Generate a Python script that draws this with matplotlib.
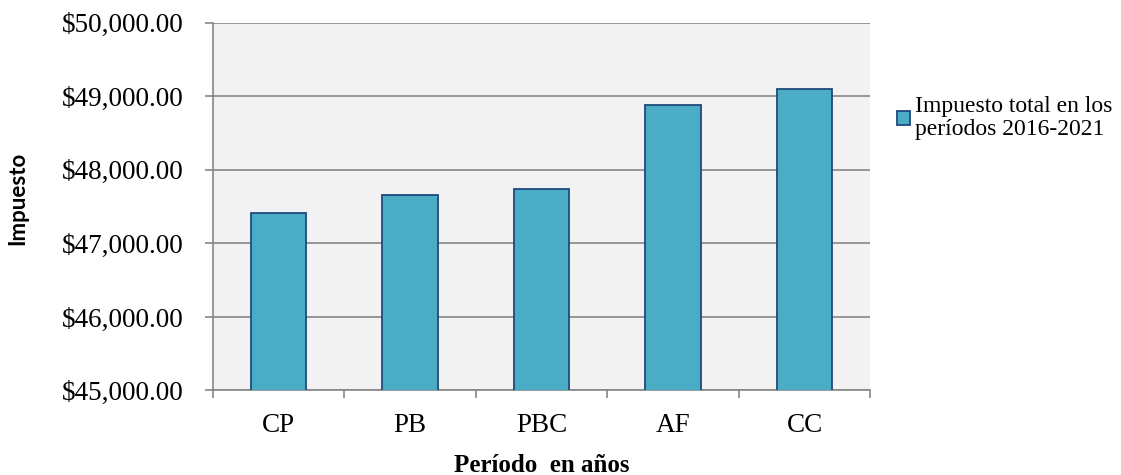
import matplotlib
matplotlib.use("Agg")
import matplotlib.pyplot as plt
from matplotlib.ticker import FuncFormatter, FixedLocator

# data
categories = ["CP", "PB", "PBC", "AF", "CC"]
impuesto = [47414, 47659, 47736, 48879, 49097]
series_label = "Impuesto total en los\nperíodos 2016-2021"

BAR = "#4BACC6"
EDGE = "#1F497D"
GRID = "#868686"
SERIF = ["Liberation Serif", "DejaVu Serif"]

plt.rcParams.update({"font.family": SERIF})

fig = plt.figure(figsize=(11.21, 4.75), dpi=100)
ax = fig.add_axes([0.1897, 0.178, 0.5868, 0.774])
ax.set_facecolor("#F2F2F2")

x = range(len(categories))
ax.bar(x, impuesto, width=0.42, color=BAR, edgecolor=EDGE, linewidth=1.3,
       zorder=3, label=series_label)

ax.set_ylim(45000, 50000)
ax.set_xlim(-0.5, len(categories) - 0.5)
ax.set_yticks(range(45000, 50001, 1000))
ax.yaxis.set_major_formatter(FuncFormatter(lambda v, p: f"${v:,.2f}"))
ax.yaxis.grid(True, color=GRID, linewidth=1.2, zorder=0)
ax.set_axisbelow(True)

ax.set_xticks(list(x))
ax.set_xticklabels(categories)
ax.xaxis.set_minor_locator(FixedLocator([i - 0.5 for i in range(len(categories) + 1)]))
ax.tick_params(axis="x", which="major", length=0, pad=16, labelsize=19.5)
ax.tick_params(axis="x", which="minor", length=6, width=1.2, color=GRID, direction="out")
ax.tick_params(axis="y", length=6, width=1.2, color=GRID, direction="out", pad=15,
               labelsize=19.5)

for sp in ("top", "right"):
    ax.spines[sp].set_visible(False)
for sp in ("left", "bottom"):
    ax.spines[sp].set_color(GRID)
    ax.spines[sp].set_linewidth(1.2)

fig.text(541.6 / 1121, 1 - 472 / 475, "Período  en años", ha="center", va="baseline",
         fontsize=18, fontweight="bold")
fig.text(18 / 1121, 1 - 198 / 475, "Impuesto", rotation=90, ha="center", va="center",
         fontsize=16, fontweight="bold", family=["Lato", "DejaVu Sans"])

leg = ax.legend(loc="upper left", bbox_to_anchor=(897 / 1121, 1 - 96 / 475),
                bbox_transform=fig.transFigure, frameon=False, fontsize=17,
                handlelength=0.55, handleheight=0.5, handletextpad=0.22,
                borderpad=0, borderaxespad=0)
for t in leg.get_texts():
    t.set_linespacing(1.15)

fig.savefig("out.png", dpi=100)
